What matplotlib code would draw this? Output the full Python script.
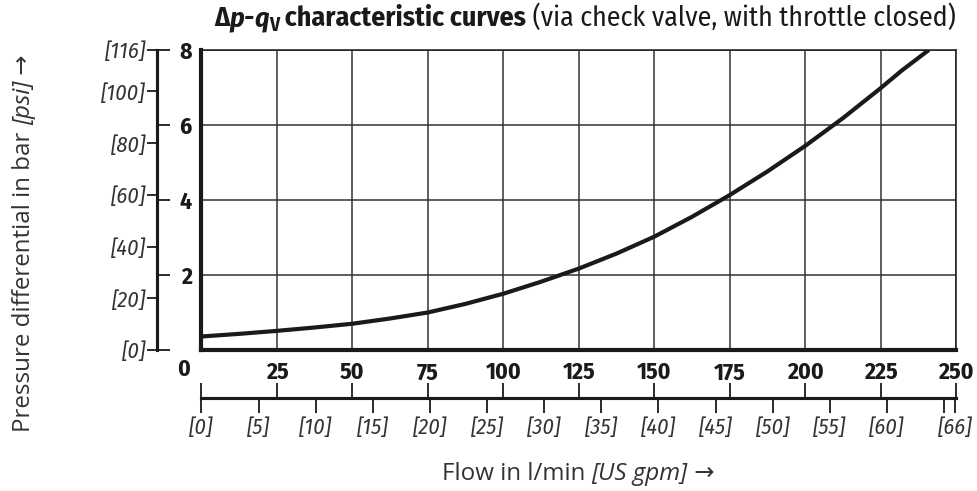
import matplotlib
matplotlib.use("Agg")
import matplotlib.pyplot as plt
from matplotlib.transforms import IdentityTransform

# data (flow in l/min, pressure differential in bar)
flow = [0, 12.5, 25, 37.5, 50, 62.5, 75, 87.5, 100, 112.5, 125, 137.5,
        150, 162.5, 175, 187.5, 200, 212.5, 225, 232, 241]
dp = [0.36, 0.43, 0.51, 0.60, 0.70, 0.84, 1.00, 1.23, 1.50, 1.82, 2.17, 2.57,
      3.02, 3.55, 4.13, 4.76, 5.44, 6.18, 6.98, 7.45, 8.0]

bar_ticks = [2, 4, 6, 8]
lpm_ticks = [25, 50, 75, 100, 125, 150, 175, 200, 225, 250]
psi_ticks = [0, 20, 40, 60, 80, 100, 116]
gpm_ticks = [0, 5, 10, 15, 20, 25, 30, 35, 40, 45, 50, 55, 60, 65, 66]
gpm_labels = ["[0]", "[5]", "[10]", "[15]", "[20]", "[25]", "[30]", "[35]",
              "[40]", "[45]", "[50]", "[55]", "[60]", "", "[66]"]

COND = ["Fira Sans Condensed", "Asap Condensed", "DejaVu Sans"]
LABEL = ["Open Sans", "DejaVu Sans"]
dark = "#1a1a1a"
grey = "#333333"

fig = plt.figure(figsize=(9.77, 4.91), dpi=100)
ax = fig.add_axes([0.2062, 0.2872, 0.7723, 0.611])

ax.plot(flow, dp, color=dark, linewidth=3, solid_capstyle="butt", zorder=3)

ax.set_xlim(0, 250)
ax.set_ylim(0, 8)
ax.set_xticks(lpm_ticks)
ax.set_yticks(bar_ticks)
ax.set_xticklabels([str(t) for t in lpm_ticks], fontfamily=COND,
                   fontweight="bold", fontsize=17, color=dark)
ax.set_yticklabels([str(t) for t in bar_ticks], fontfamily=COND,
                   fontweight="bold", fontsize=17, color=dark)
ax.tick_params(axis="both", length=0)
ax.tick_params(axis="x", pad=8)
ax.tick_params(axis="y", pad=7)
ax.grid(True, color=grey, linewidth=1.1)
ax.spines["left"].set_linewidth(3)
ax.spines["bottom"].set_linewidth(3)
ax.spines["top"].set_linewidth(1.1)
ax.spines["right"].set_linewidth(1.1)
for s in ax.spines.values():
    s.set_color(dark)

ax.annotate("0", xy=(0, 0), xytext=(-13, -14), textcoords="offset points",
            ha="center", va="center", fontfamily=COND, fontweight="bold",
            fontsize=17, color=dark)

# psi scale
psi = ax.secondary_yaxis(-0.059, functions=(lambda b: b * 14.5, lambda p: p / 14.5))
psi.set_yticks(psi_ticks)
psi.set_yticklabels(["[%d]" % t for t in psi_ticks], fontfamily=COND,
                    fontstyle="italic", fontsize=16, color=grey)
psi.tick_params(axis="y", direction="out", length=7, width=1.3, pad=1, color=dark)
for s in psi.spines.values():
    s.set_linewidth(2.2)
    s.set_color(dark)

barr = ax.secondary_yaxis(-0.059, functions=(lambda b: b, lambda b: b))
barr.set_yticks([0, 2, 4, 6, 8])
barr.set_yticklabels([])
barr.tick_params(axis="y", direction="in", length=9, width=1.3, color=dark)
for s in barr.spines.values():
    s.set_linewidth(2.2)
    s.set_color(dark)

# lower flow scale
lpm = ax.secondary_xaxis(-0.16, functions=(lambda q: q, lambda q: q))
lpm.set_xticks([0] + lpm_ticks)
lpm.set_xticklabels([])
lpm.tick_params(axis="x", direction="in", length=10.8, width=1.3, color=dark)
for s in lpm.spines.values():
    s.set_linewidth(2.2)
    s.set_color(dark)

gpm = ax.secondary_xaxis(-0.16, functions=(lambda q: q / 3.785, lambda g: g * 3.785))
gpm.set_xticks(gpm_ticks)
gpm.set_xticklabels(gpm_labels, fontfamily=COND, fontstyle="italic",
                    fontsize=16, color=grey)
gpm.tick_params(axis="x", direction="out", length=10.8, width=1.3, pad=3, color=dark)
for s in gpm.spines.values():
    s.set_linewidth(2.2)
    s.set_color(dark)


# texts made of pieces with mixed styles, laid out one after another
def chain(x, y, pieces, center, vertical=False):
    fig.canvas.draw()
    r = fig.canvas.get_renderer()
    made = []
    for txt, dy, kw in pieces:
        if vertical:
            t = fig.text(x - dy, y, txt, transform=IdentityTransform(), ha="left",
                         va="baseline", rotation=90, rotation_mode="anchor", **kw)
            y = t.get_window_extent(r).y1
        else:
            t = fig.text(x, y + dy, txt, transform=IdentityTransform(), ha="left",
                         va="baseline", **kw)
            x = t.get_window_extent(r).x1
        made.append(t)
    bbs = [t.get_window_extent(r) for t in made]
    if vertical:
        shift = center - (bbs[0].y0 + bbs[-1].y1) / 2
        for t in made:
            px, py = t.get_position()
            t.set_position((px, py + shift))
    else:
        shift = center - (bbs[0].x0 + bbs[-1].x1) / 2
        for t in made:
            px, py = t.get_position()
            t.set_position((px + shift, py))


tb = dict(fontfamily=COND, fontsize=20, fontweight="bold", color=dark)
tbi = dict(tb, fontstyle="italic")
chain(218, 491 - 26, [
    ("Δ", 0, tb),
    ("p", 0, tbi),
    ("-", 0, tbi),
    ("q", 0, tbi),
    ("V", -5, dict(tb, fontsize=14)),
    (" characteristic curves", 0, tb),
    (" (via check valve, with throttle closed)", 0,
     dict(fontfamily=COND, fontsize=20, color=dark)),
], center=585)

lk = dict(fontfamily=LABEL, fontsize=17.4, color=grey)
lki = dict(lk, fontstyle="italic")
chain(443, 491 - 480, [
    ("Flow in l/min ", 0, lk),
    ("[US gpm]", 0, lki),
    (" →", 0, lk),
], center=578)
chain(30, 71, [
    ("Pressure differential in bar ", 0, lk),
    ("[psi]", 0, lki),
    (" →", 0, lk),
], center=491 - 243, vertical=True)

fig.savefig("out.png", dpi=100)
